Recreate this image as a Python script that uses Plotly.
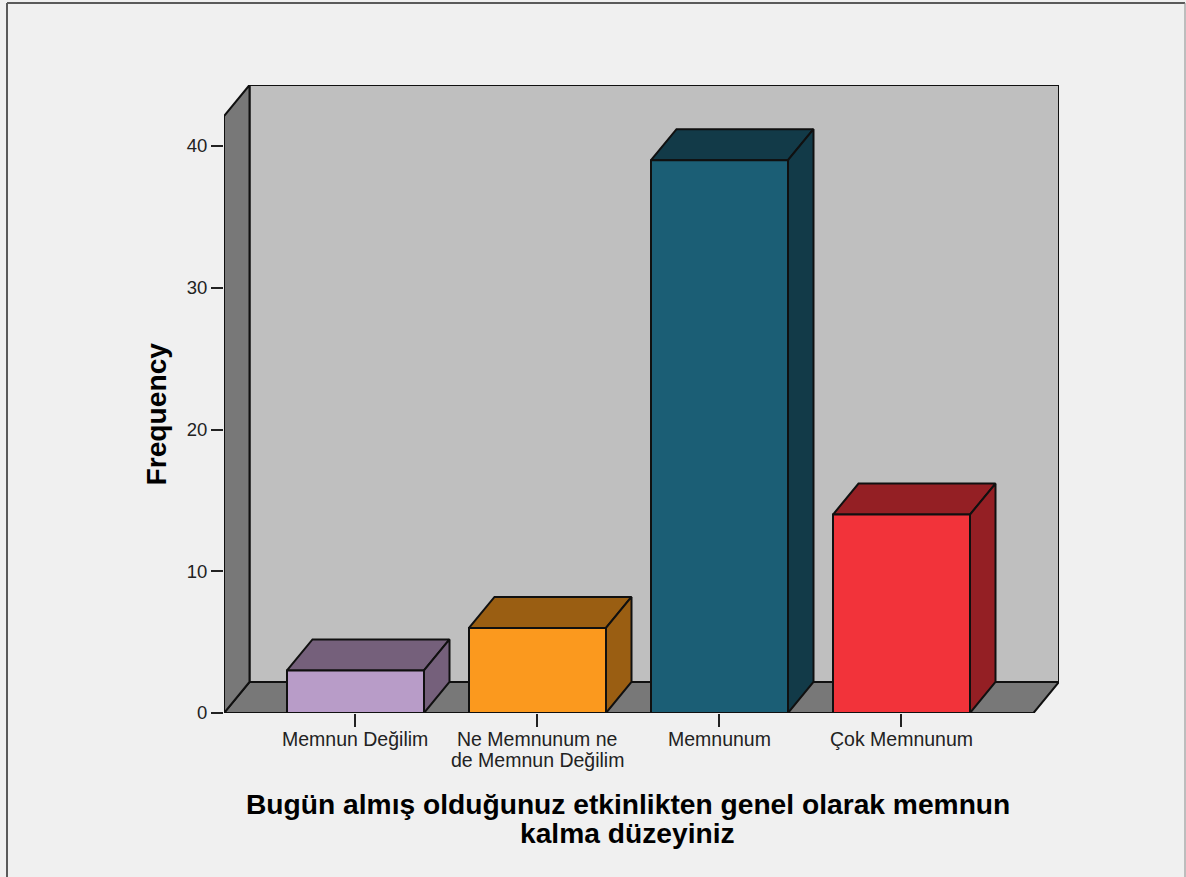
import plotly.graph_objects as go

categories = ["Memnun Değilim", "Ne Memnunum ne<br>de Memnun Değilim", "Memnunum", "Çok Memnunum"]
frequencies = [3, 6, 39, 14]
front_colors = ["#B89CC8", "#FB991E", "#1B5E75", "#F2333A"]
shade_colors = ["#75607B", "#9A5E12", "#123A48", "#941F24"]
y_ticks = [0, 10, 20, 30, 40]
x_title_lines = ["Bugün almış olduğunuz etkinlikten genel olarak memnun", "kalma düzeyiniz"]
y_title = "Frequency"

W, H = 1186, 877
L, R, T, B = 224, 1059, 85, 713
X0_PX, X_STEP_PX = 355, 182
Y_UNIT_PX = 14.175
x_min = (L - X0_PX) / X_STEP_PX
x_max = (R - X0_PX) / X_STEP_PX
y_max = (B - T) / Y_UNIT_PX
dx = 25.5 / X_STEP_PX
dy = 31 / Y_UNIT_PX
bar_w = 137 / X_STEP_PX
EDGE = "#101010"

fig = go.Figure()


def poly(xs, ys, color, width=2):
    fig.add_trace(go.Scatter(
        x=xs + xs[:1], y=ys + ys[:1], mode="lines", fill="toself", fillcolor=color,
        line=dict(color=EDGE, width=width), hoverinfo="skip", showlegend=False, cliponaxis=False,
    ))


front_right = x_max - dx
front_top = y_max - dy
poly([x_min + dx, x_max, x_max, x_min + dx], [dy, dy, y_max, y_max], "#BFBFBF")
poly([x_min, front_right, x_max, x_min + dx], [0, 0, dy, dy], "#787878")
poly([x_min, x_min + dx, x_min + dx, x_min], [0, dy, y_max, front_top], "#787878")

for i, v in enumerate(frequencies):
    a, b = i - bar_w / 2 + 0.5 / X_STEP_PX, i + bar_w / 2 + 0.5 / X_STEP_PX
    poly([a, a + dx, b + dx, b], [v, v + dy, v + dy, v], shade_colors[i])
    poly([b, b + dx, b + dx, b], [0, dy, v + dy, v], shade_colors[i])
    poly([a, b, b, a], [0, 0, v, v], front_colors[i])

FAMILY = "Liberation Sans, Arial, sans-serif"
x_tick_font = dict(family=FAMILY, size=19.5, color="#222222")
y_tick_font = dict(family=FAMILY, size=18.5, color="#222222")
title_font = dict(family=FAMILY, size=28.2, color="#000000")


def py(p):
    return (B - p) / (B - T)


def px(p):
    return (p - L) / (R - L)


annotations = [
    dict(text="<b>" + line + "</b>", xref="x", yref="paper", x=1.5 - 0.5 / X_STEP_PX, y=py(c),
         yanchor="middle", xanchor="center", showarrow=False, font=title_font)
    for line, c in zip(x_title_lines, [804, 832.5])
]
annotations.append(
    dict(text="<b>" + y_title + "</b>", xref="paper", yref="y", x=px(155), y=front_top / 2,
         textangle=-90, xanchor="center", yanchor="middle", showarrow=False, font=title_font)
)
for i, label in enumerate(categories):
    for line, c in zip(label.split("<br>"), [739, 760]):
        annotations.append(dict(text=line, xref="x", yref="paper", x=i, y=py(c), yanchor="middle",
                                xanchor="center", showarrow=False, font=x_tick_font))

fig.update_layout(
    width=W, height=H, autosize=False,
    margin=dict(l=L, r=W - R, t=T, b=H - B, pad=0),
    paper_bgcolor="#F0F0F0", plot_bgcolor="rgba(0,0,0,0)",
    showlegend=False,
    xaxis=dict(range=[x_min, x_max], tickmode="array", tickvals=list(range(len(categories))),
               showticklabels=False, ticks="outside", ticklen=13, tickwidth=2, tickcolor="#222222",
               showgrid=False, zeroline=False, showline=False),
    yaxis=dict(range=[0, y_max], tickmode="array", tickvals=y_ticks, ticks="outside", ticklen=12,
               tickwidth=2, tickcolor="#222222", tickfont=y_tick_font, showgrid=False, zeroline=False, showline=False),
    annotations=annotations,
    shapes=[
        dict(type="line", xref="paper", yref="paper", x0=px(7), x1=px(7), y0=py(H), y1=py(3),
             line=dict(color="#5A5A5A", width=2)),
        dict(type="line", xref="paper", yref="paper", x0=px(7), x1=px(1185), y0=py(3), y1=py(3),
             line=dict(color="#5A5A5A", width=2)),
        dict(type="line", xref="paper", yref="paper", x0=px(1185), x1=px(1185), y0=py(H), y1=py(3),
             line=dict(color="#8A8A8A", width=1)),
    ],
)

fig.write_html("out.html", config=dict(displayModeBar=False),
               post_script="document.body.style.margin='0';document.body.style.background='#F0F0F0';document.body.style.overflow='hidden';")
